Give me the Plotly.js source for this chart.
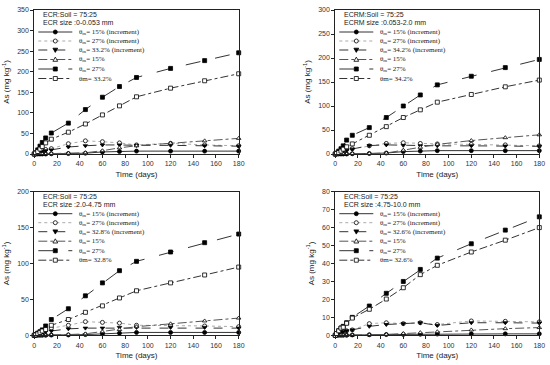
<!DOCTYPE html>
<html><head><meta charset="utf-8">
<script src="https://cdn.plot.ly/plotly-3.0.1.min.js"></script>
<style>html,body{margin:0;padding:0;background:#fff}#c{width:550px;height:365px}</style>
</head><body><div id="c"></div>
<script>
// ---- data ----
const days = [0, 1, 3, 5, 7, 10, 15, 30, 45, 60, 75, 90, 120, 150, 180];

// Panel 1: ECR size 0-0.053 mm
const p1_inc15 = [0,0,0,0,0,0,0.5,1,2,5,6,7,7,7,7];
const p1_inc27 = [0,1,3,6,9,11,13,25,32,30,27,22,26,22,20];
const p1_incHi = [0,1,2,4,6,8,10,17,20,22,22,21,21,20,19];
const p1_m15   = [0,0,0,0,0,0,1,2,3,8,15,20,26,32,38];
const p1_m27   = [0,3,10,19,28,39,51,75,108,138,164,186,208,227,246];
const p1_mHi   = [0,2,6,12,18,27,36,53,73,95,117,139,160,178,195];

// Panel 2: ECRM size 0.053-2.0 mm
const p2_inc15 = [0,0,0,0,0,0,0.5,1,2,5,6,7,7,7,7];
const p2_inc27 = [0,1,3,5,7,9,11,17,22,23.5,22,21,20,19,17];
const p2_incHi = [0,1,2,4,6,8,10,17.5,19,18,17,17,17,16.5,16];
const p2_m15   = [0,0,0,0,0,0,1,1,2,8,14,20,28,34,40];
const p2_m27   = [0,2,6,11,17,29,39,55,76,100,123,144,162,180,197];
const p2_mHi   = [0,1,3,6,10,15,21,39,57,76,92,108,124,140,154];

// Panel 3: ECR size 2.0-4.75 mm
const p3_inc15 = [0,0,0,0,0,0,0.3,0.5,1,2,3,4,4,4,4];
const p3_inc27 = [0,1,2,4,6,8,10,14,19,18,17,14,14,13,12];
const p3_incHi = [0,0.5,1,2,3,5,6,9,10,10,11,11,11,11,10];
const p3_m15   = [0,0,0,0,0,0,0.5,1,2,5,8,12,16,20,24];
const p3_m27   = [0,1,3,5,7.5,13,22,37,55,73,90,103,116,129,141];
const p3_mHi   = [0,0.5,2,4,6,8,14,22,32,41,52,62,73,84,95];

// Panel 4: ECR size 4.75-10.0 mm
const p4_inc15 = [0,0,0,0,0,0,0.2,0.3,0.4,0.5,0.6,0.7,0.8,0.8,0.8];
const p4_inc27 = [0,0.5,1,1.5,2,2.5,3,6.5,7,6.5,7,6,8,7.8,7.5];
const p4_incHi = [0,0.5,1,1.5,2,2.5,3,5,6,6.5,7,5.5,7,7,6.8];
const p4_m15   = [0,0,0,0,0,0,0.1,0.3,0.5,1,1.5,2,3,3.7,4.3];
const p4_m27   = [0,1,2.5,4,5,7,10,16.3,23.4,30,36.7,43,51,58.6,66];
const p4_mHi   = [0,1,2.5,4,4.5,6.7,9.6,14.5,20.2,26.5,33.8,39,46.4,53,60];

const highMoisture = ["33.2%", "34.2%", "32.8%", "32.6%"];
const headers1 = ["ECR:Soil = 75:25", "ECRM:Soil = 75:25", "ECR:Soil = 75:25", "ECR:Soil = 75:25"];
const headers2 = ["ECR size :0-0.053 mm", "ECRM size :0.053-2.0 mm", "ECR size :2.0-4.75 mm", "ECR size :4.75-10.0 mm"];
const yMax = [350, 300, 200, 80];
const yStep = [50, 50, 50, 10];
const xTitle = "Time (days)";
const yTitle = "As (mg kg<sup>-1</sup>)";

// ---- layout helpers ----
const W = 550, H = 365;
const fx = x => x / W, fy = y => 1 - y / H;
const boxes = [
  {l:34.3, r:238.7, t:10, b:154},
  {l:335.3, r:539.3, t:10, b:154},
  {l:34.3, r:238.7, t:191.7, b:335.3},
  {l:335.3, r:539.3, t:191.7, b:335.3}
];
const panelData = [
  [p1_inc15,p1_inc27,p1_incHi,p1_m15,p1_m27,p1_mHi],
  [p2_inc15,p2_inc27,p2_incHi,p2_m15,p2_m27,p2_mHi],
  [p3_inc15,p3_inc27,p3_incHi,p3_m15,p3_m27,p3_mHi],
  [p4_inc15,p4_inc27,p4_incHi,p4_m15,p4_m27,p4_mHi]
];
const styles = [
  {sym:'circle', fill:'#000', dash:'solid', lc:'#333'},
  {sym:'circle', fill:'#fff', dash:'dot', lc:'#aaa'},
  {sym:'triangle-down', fill:'#000', dash:'dash', lc:'#333'},
  {sym:'triangle-up', fill:'#fff', dash:'dashdot', lc:'#555'},
  {sym:'square', fill:'#000', dash:'longdash', lc:'#333'},
  {sym:'square', fill:'#fff', dash:'8px,3px,3px,3px', lc:'#333'}
];
function labels(i){
  const hi = highMoisture[i];
  return ["θ<sub>m</sub>= 15% (increment)", "θ<sub>m</sub>= 27% (increment)",
          "θ<sub>m</sub>= " + hi + " (increment)", "θ<sub>m</sub>= 15%",
          "θ<sub>m</sub>= 27%", "θm= " + hi];
}

const traces = [], shapes = [], annotations = [];
const layout = {
  width: W, height: H, margin:{l:0,r:0,t:0,b:0},
  paper_bgcolor:'#fff', plot_bgcolor:'#fff', showlegend:false,
  font:{family:'Liberation Sans, Arial, sans-serif', size:7, color:'#222'}
};
const tfont = {family:'Liberation Sans, Arial, sans-serif', size:7, color:'#333'};

boxes.forEach((b, i) => {
  const n = i + 1, xs = n === 1 ? '' : n, ax = 'x' + xs, ay = 'y' + xs;
  layout['xaxis' + xs] = {
    domain:[fx(b.l), fx(b.r)], range:[0,180], anchor:ay, dtick:20, tick0:0,
    showline:true, mirror:true, linecolor:'#222', linewidth:1, showgrid:false, zeroline:false,
    ticks:'outside', ticklen:3, tickcolor:'#222', tickfont:tfont,
    title:{text:xTitle, font:{size:8, color:'#222'}, standoff:4}
  };
  layout['yaxis' + xs] = {
    domain:[fy(b.b), fy(b.t)], range:[0, yMax[i]], anchor:ax, dtick:yStep[i], tick0:0,
    showline:true, mirror:true, linecolor:'#222', linewidth:1, showgrid:false, zeroline:false,
    ticks:'outside', ticklen:3, tickcolor:'#222', tickfont:tfont,
    title:{text:yTitle, font:{size:8, color:'#222'}, standoff:6}
  };
  const labs = labels(i);
  panelData[i].forEach((ys, k) => {
    const s = styles[k];
    traces.push({
      x: days, y: ys, xaxis: ax, yaxis: ay, type:'scatter', mode:'lines+markers',
      name: labs[k], cliponaxis:false,
      line:{color:s.lc, width:1, dash:s.dash},
      marker:{symbol:s.sym, size:4, color:s.fill, line:{color:'#000', width:0.8}}
    });
  });
  // headers
  [headers1[i], headers2[i]].forEach((t, j) => {
    annotations.push({xref:'paper', yref:'paper', x:fx(b.l + 7), y:fy(b.t + 5 + j*8),
      xanchor:'left', yanchor:'middle', text:t, showarrow:false,
      font:{size:7, color:'#222'}});
  });
  // legend rows
  const rowsY = [22, 31, 40, 49.5, 59, 68.5];
  labs.forEach((t, k) => {
    const s = styles[k], yy = b.t + rowsY[k];
    shapes.push({type:'line', xref:'paper', yref:'paper', x0:fx(b.l+4), x1:fx(b.l+38), y0:fy(yy), y1:fy(yy),
      line:{color:s.lc, width:1, dash:s.dash}});
    const cx = b.l + 21, r = 2;
    const fill = s.fill;
    if (s.sym.startsWith('circle')) {
      shapes.push({type:'circle', xref:'paper', yref:'paper', x0:fx(cx-r), x1:fx(cx+r), y0:fy(yy+r), y1:fy(yy-r),
        fillcolor:fill, line:{color:'#000', width:0.8}});
    } else if (s.sym.startsWith('square')) {
      shapes.push({type:'rect', xref:'paper', yref:'paper', x0:fx(cx-r), x1:fx(cx+r), y0:fy(yy+r), y1:fy(yy-r),
        fillcolor:fill, line:{color:'#000', width:0.8}});
    } else {
      const up = s.sym.startsWith('triangle-up');
      const tipY = up ? yy - 2.4 : yy + 2.4, baseY = up ? yy + 1.8 : yy - 1.8;
      const path = `M${fx(cx)},${fy(tipY)} L${fx(cx-2.4)},${fy(baseY)} L${fx(cx+2.4)},${fy(baseY)} Z`;
      shapes.push({type:'path', xref:'paper', yref:'paper', path:path, fillcolor:fill, line:{color:'#000', width:0.8}});
    }
    annotations.push({xref:'paper', yref:'paper', x:fx(b.l + 43), y:fy(yy), xanchor:'left', yanchor:'middle',
      text:t, showarrow:false, font:{size:7, color:'#222', family:'Liberation Serif, serif'}});
  });
});
layout.shapes = shapes;
layout.annotations = annotations;
Plotly.newPlot('c', traces, layout, {staticPlot:true, displayModeBar:false});
</script></body></html>
